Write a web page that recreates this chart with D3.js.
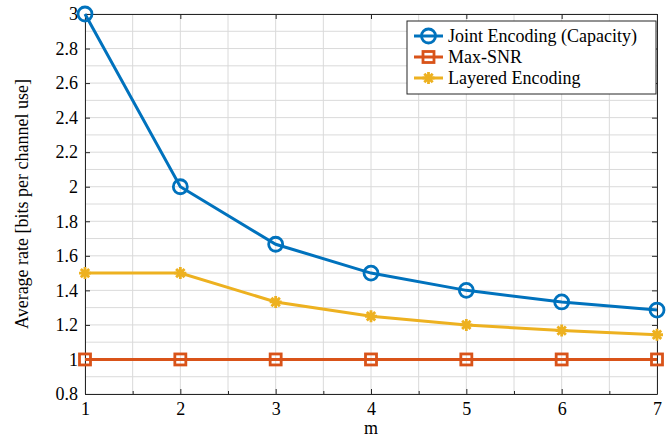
<!DOCTYPE html>
<html><head><meta charset="utf-8">
<script src="https://cdn.jsdelivr.net/npm/d3@7"></script>
<style>body{margin:0;background:#fff;} text{font-family:"Liberation Serif","Times New Roman",serif;}</style>
</head><body><svg id="c" width="667" height="440"></svg>
<script>
const mValues = [1,2,3,4,5,6,7];
const jointEncoding = [3, 2, 1.667, 1.5, 1.4, 1.333, 1.286];
const maxSNR = [1, 1, 1, 1, 1, 1, 1];
const layeredEncoding = [1.5, 1.5, 1.333, 1.25, 1.2, 1.167, 1.143];
const yTicks = [0.8,1,1.2,1.4,1.6,1.8,2,2.2,2.4,2.6,2.8,3];
const seriesNames = ["Joint Encoding (Capacity)", "Max-SNR", "Layered Encoding"];
const colors = ["#0072BD", "#D95319", "#EDB120"];
const markers = ["circle", "square", "asterisk"];

const FS = 18;
const svg = d3.select("#c");
const L=85, R=657, T=14, B=394;
const x = d3.scaleLinear().domain([1,7]).range([L,R]);
const y = d3.scaleLinear().domain([0.8,3]).range([B,T]);

// grid
const g = svg.append("g");
const xg = d3.range(1,7.01,0.5), yg = d3.range(0.8,3.001,0.1);
g.selectAll(".vx").data(xg).enter().append("line")
 .attr("x1",d=>x(d)).attr("x2",d=>x(d)).attr("y1",T).attr("y2",B)
 .attr("stroke","#dadada").attr("stroke-width",1);
g.selectAll(".hy").data(yg).enter().append("line")
 .attr("y1",d=>y(d)).attr("y2",d=>y(d)).attr("x1",L).attr("x2",R)
 .attr("stroke","#dadada").attr("stroke-width",1);

// axes
svg.append("g").attr("transform",`translate(0,${B})`)
 .call(d3.axisBottom(x).tickValues(mValues).tickFormat(d3.format("d")).tickSizeInner(-5).tickSizeOuter(0).tickPadding(8));
svg.append("g").attr("transform",`translate(${L},0)`)
 .call(d3.axisLeft(y).tickValues(yTicks).tickFormat(d=>d3.format("")(+d.toFixed(1))).tickSizeInner(-5).tickSizeOuter(0).tickPadding(7));
svg.append("g").attr("transform",`translate(0,${B})`)
 .call(d3.axisBottom(x).tickValues([1.5,2.5,3.5,4.5,5.5,6.5]).tickFormat("").tickSizeInner(-3).tickSizeOuter(0))
 .select(".domain").remove();
svg.append("g").attr("transform",`translate(0,${T})`)
 .call(d3.axisTop(x).tickValues(mValues).tickFormat("").tickSizeInner(-5).tickSizeOuter(0));
svg.append("g").attr("transform",`translate(${R},0)`)
 .call(d3.axisRight(y).tickValues(yTicks).tickFormat("").tickSizeInner(-5).tickSizeOuter(0));
svg.selectAll(".domain").attr("stroke","#262626");
svg.selectAll(".tick line").attr("stroke","#262626");
svg.selectAll("g").attr("font-family",null);
svg.selectAll(".tick text").attr("font-size",FS).attr("fill","#000");

// labels
svg.append("text").attr("x",(L+R)/2).attr("y",434).attr("text-anchor","middle")
 .attr("font-size",FS).text("m");
svg.append("text").attr("transform",`translate(28,${(T+B)/2}) rotate(-90)`).attr("text-anchor","middle")
 .attr("font-size",FS).text("Average rate [bits per channel use]");

function drawMarker(sel, type, color, cx, cy){
  if(type==="circle"){
    sel.append("circle").attr("cx",cx).attr("cy",cy).attr("r",7)
      .attr("fill","none").attr("stroke",color).attr("stroke-width",2.8);
  } else if(type==="square"){
    sel.append("rect").attr("x",cx-5.5).attr("y",cy-5.5).attr("width",11).attr("height",11)
      .attr("fill","none").attr("stroke",color).attr("stroke-width",2.8);
  } else {
    const s=6;
    const p = `M${cx-s},${cy}L${cx+s},${cy}M${cx},${cy-s}L${cx},${cy+s}M${cx-s*0.7},${cy-s*0.7}L${cx+s*0.7},${cy+s*0.7}M${cx-s*0.7},${cy+s*0.7}L${cx+s*0.7},${cy-s*0.7}`;
    sel.append("path").attr("d",p).attr("stroke",color).attr("stroke-width",2.8).attr("fill","none");
  }
}

const allSeries = [jointEncoding, maxSNR, layeredEncoding];
const line = d3.line().x((d,i)=>x(mValues[i])).y(d=>y(d));
const plot = svg.append("g");
[1,2,0].forEach(k=>{
  const gg = plot.append("g");
  gg.append("path").datum(allSeries[k]).attr("d",line).attr("fill","none")
    .attr("stroke",colors[k]).attr("stroke-width",3);
  allSeries[k].forEach((v,i)=>drawMarker(gg, markers[k], colors[k], x(mValues[i]), y(v)));
});

// legend
const lg = svg.append("g");
lg.append("rect").attr("x",407).attr("y",21).attr("width",249).attr("height",73)
 .attr("fill","#fff").attr("stroke","#262626").attr("stroke-width",1);
seriesNames.forEach((n,k)=>{
  const cy = 36 + k*21;
  lg.append("line").attr("x1",414).attr("x2",443).attr("y1",cy).attr("y2",cy)
    .attr("stroke",colors[k]).attr("stroke-width",3);
  drawMarker(lg, markers[k], colors[k], 428.5, cy);
  lg.append("text").attr("x",448).attr("y",cy+6).attr("font-size",FS).text(n);
});
</script></body></html>
